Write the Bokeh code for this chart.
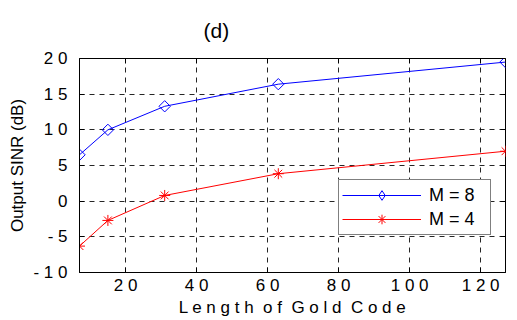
from bokeh.plotting import figure
from bokeh.models import (Range1d, FixedTicker, LinearAxis, Legend, LegendItem,
                          CustomLabelingPolicy)
from bokeh.embed import file_html
from bokeh.resources import INLINE
import numpy as np

# ---- data ----
code_length = [7, 15, 31, 63, 127]
sinr_m8 = [6.5, 10.0, 13.3, 16.4, 19.5]
sinr_m4 = [-6.3, -2.7, 0.8, 3.85, 7.0]
x_ticks = [20, 40, 60, 80, 100, 120]
x_tick_labels = ["2 0", "4 0", "6 0", "8 0", "1 0 0", "1 2 0"]
y_ticks = [-10, -5, 0, 5, 10, 15, 20]
y_tick_labels = ["- 1 0", "- 5", "0", "5", "1 0", "1 5", "2 0"]
series_labels = ["M = 8", "M = 4"]
x_label = "L e n g t h \u00a0o f \u00a0G o l d \u00a0C o d e"
y_label = "Output SINR (dB)"
panel_title = "(d)"

FONT = "Liberation Sans"

p = figure(width=517, height=320, output_backend="svg", toolbar_location=None,
           x_range=Range1d(7, 127), y_range=Range1d(-10, 20),
           min_border_left=79, min_border_right=12, min_border_top=58, min_border_bottom=48)
p.background_fill_color = "white"
p.border_fill_color = "white"
p.outline_line_color = "black"
p.outline_line_width = 1

p.title.text = panel_title
p.title.align = "left"
p.title.vertical_align = "top"
p.title.offset = 124
p.title.standoff = 21
p.title.text_font = FONT
p.title.text_font_size = "21px"
p.title.text_font_style = "normal"
p.title.text_color = "black"

for ax, ticks, labels in [(p.xaxis[0], x_ticks, x_tick_labels), (p.yaxis[0], y_ticks, y_tick_labels)]:
    ax.ticker = FixedTicker(ticks=ticks)
    ax.major_label_overrides = {t: l for t, l in zip(ticks, labels)}
    ax.minor_tick_line_color = None
    ax.major_tick_in = 5
    ax.major_tick_out = 0
    ax.major_tick_line_color = "black"
    ax.axis_line_color = "black"
    ax.major_label_text_font = FONT
    ax.major_label_text_font_size = "17px"
    ax.major_label_text_color = "black"
    ax.axis_label_text_font = FONT
    ax.axis_label_text_font_style = "normal"
    ax.axis_label_text_color = "black"

p.xaxis.axis_label = x_label
p.xaxis.axis_label_text_font_size = "17px"
p.xaxis.major_label_standoff = 3
p.xaxis.axis_label_standoff = 0
p.yaxis.axis_label = y_label
p.yaxis.axis_label_text_font_size = "17px"
p.yaxis.major_label_standoff = 12
p.yaxis.axis_label_standoff = 3

# box ticks on top/right (no labels)
no_labels = CustomLabelingPolicy(code="""
    const result = new Set()
    return result
""")
for loc, ticks in [("right", y_ticks), ("above", x_ticks)]:
    ax = LinearAxis()
    ax.ticker = FixedTicker(ticks=ticks)
    ax.major_label_policy = no_labels
    ax.major_label_text_font_size = "1px"
    ax.major_label_standoff = 0
    ax.minor_tick_line_color = None
    ax.major_tick_in = 5
    ax.major_tick_out = 0
    ax.major_tick_line_color = "black"
    ax.axis_line_color = None
    p.add_layout(ax, loc)

for g, ticks in [(p.xgrid[0], x_ticks), (p.ygrid[0], y_ticks)]:
    g.ticker = FixedTicker(ticks=ticks)
    g.grid_line_color = "black"
    g.grid_line_alpha = 0.85
    g.grid_line_dash = "5 5"
    g.grid_line_width = 1

l8 = p.line(code_length, sinr_m8, line_color="#0000ff", line_width=1)
p.scatter(code_length, sinr_m8, marker="square", angle=np.pi / 4, size=8,
          line_color="#0000ff", fill_color=None, line_width=1)
# hidden diamond renderer used only as the legend key (legend keys are not rotated)
m8_key = p.scatter(code_length, sinr_m8, marker="diamond", size=15, visible=False,
                   line_color="#0000ff", fill_color=None, line_width=1)
l4 = p.line(code_length, sinr_m4, line_color="#ff0000", line_width=1)
m4 = p.scatter(code_length, sinr_m4, marker="asterisk", size=11,
               line_color="#ff0000", line_width=1)

legend = Legend(items=[LegendItem(label=series_labels[0], renderers=[l8, m8_key]),
                       LegendItem(label=series_labels[1], renderers=[l4, m4])],
                location=(259, 37))
legend.label_text_font = FONT
legend.label_text_font_size = "18px"
legend.label_text_color = "black"
legend.glyph_width = 79
legend.glyph_height = 24
legend.label_height = 24
legend.label_width = 58
legend.label_standoff = 8
legend.padding = 3
legend.spacing = 0
legend.margin = 0
legend.border_line_color = "black"
legend.border_line_width = 1
legend.background_fill_color = "white"
legend.background_fill_alpha = 1
legend.inactive_fill_alpha = 0
p.add_layout(legend, "center")

open("out.html", "w").write(file_html(p, INLINE))
